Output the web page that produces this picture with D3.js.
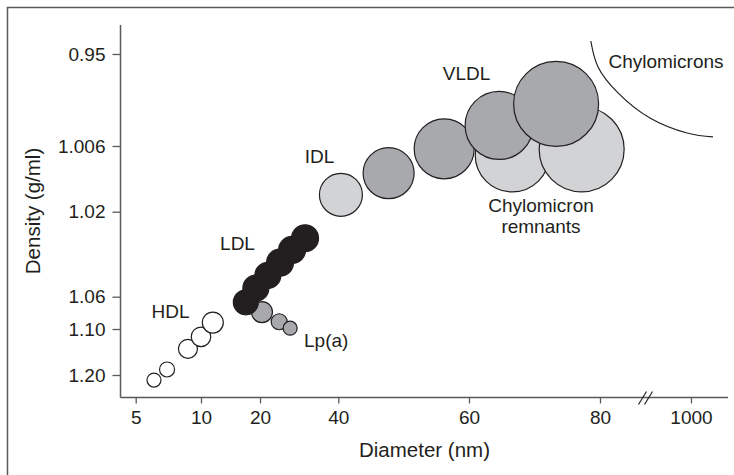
<!DOCTYPE html>
<html lang="en">
<head>
    <meta charset="UTF-8">
    <title>Lipoprotein density vs diameter</title>
    <script src="https://d3js.org/d3.v7.min.js"></script>
    <style>
        body { margin: 0; background: #fff; }
        text { font-family: "Liberation Sans", Arial, Helvetica, sans-serif; fill: #231f20; }
    </style>
</head>
<body>
    <div id="chart"></div>

    <script>
        // axis ticks
        const xTicks = [5, 10, 20, 40, 60, 80, 1000];
        const yTicks = [0.95, 1.006, 1.02, 1.06, 1.10, 1.20];
        const yTickLabels = ["0.95", "1.006", "1.02", "1.06", "1.10", "1.20"];

        // particles: diameter (nm), density (g/ml), relative size
        const hdlDiameter = [6.4, 7.4, 9.0, 10.0, 12.0];
        const hdlDensity = [1.211, 1.188, 1.143, 1.117, 1.092];
        const hdlSize = [14, 15, 19, 19.5, 21];

        const ldlDiameter = [17.6, 19.3, 22.0, 25.1, 28.2, 31.5];
        const ldlDensity = [1.067, 1.056, 1.050, 1.044, 1.038, 1.0325];
        const ldlSize = [25, 26, 26, 27, 27, 27];

        const lpaDiameter = [20.5, 24.9, 27.7];
        const lpaDensity = [1.079, 1.091, 1.099];
        const lpaSize = [21, 16, 14];

        const idlDiameter = [40.4];
        const idlDensity = [1.0164];
        const idlSize = [43];

        const vldlDiameter = [47.7, 56.2, 64.6, 73.3];
        const vldlDensity = [1.0118, 1.0066, 0.9935, 0.9804];
        const vldlSize = [51, 60, 68, 85];

        const remnantDiameter = [66.6, 77.2];
        const remnantDensity = [1.0079, 1.0067];
        const remnantSize = [74, 85];

        // chylomicron boundary curve
        const chyloDiameter = [78.6, 79.7, 262, 585, 960, 1222];
        const chyloDensity = [0.9421, 0.9579, 0.9737, 0.9890, 0.9981, 1.0005];

        const width = 734;
        const height = 475;

        const svg = d3.select("#chart")
            .append("svg")
            .attr("width", width)
            .attr("height", height);

        // frame (only top and left edges show)
        svg.append("rect")
            .attr("x", 7.5).attr("y", 7.5)
            .attr("width", 760).attr("height", 500)
            .attr("fill", "none")
            .attr("stroke", "#58595b")
            .attr("stroke-width", 1.5);

        // broken, uneven axes -> piecewise linear scales
        const x = d3.scaleLinear()
            .domain(xTicks)
            .range([135.7, 201, 260, 338.3, 469, 600, 691]);

        const y = d3.scaleLinear()
            .domain(yTicks)
            .range([54, 146, 211.7, 296.7, 329, 375]);

        const r = d3.scaleLinear().domain([0, 100]).range([0, 50]);

        const axisColor = "#58595b";
        const x0 = 120.5, y0 = 397.5;

        // axis lines
        svg.append("line")
            .attr("x1", x0).attr("x2", x0)
            .attr("y1", 25).attr("y2", y0)
            .attr("stroke", axisColor).attr("stroke-width", 1.5);
        svg.append("line")
            .attr("x1", x0).attr("x2", 728)
            .attr("y1", y0).attr("y2", y0)
            .attr("stroke", axisColor).attr("stroke-width", 1.5);

        const yAxis = svg.append("g")
            .attr("transform", `translate(${x0},0)`)
            .call(d3.axisLeft(y)
                .tickValues(yTicks)
                .tickFormat((d, i) => yTickLabels[i])
                .tickSize(8)
                .tickPadding(7));

        const xAxis = svg.append("g")
            .attr("transform", `translate(0,${y0})`)
            .call(d3.axisBottom(x)
                .tickValues(xTicks)
                .tickFormat(d3.format("d"))
                .tickSize(6)
                .tickPadding(7));

        [yAxis, xAxis].forEach(g => {
            g.select(".domain").remove();
            g.selectAll(".tick line").attr("stroke", axisColor).attr("stroke-width", 1.3);
            g.selectAll(".tick text")
                .attr("font-size", "19px")
                .attr("font-family", "Liberation Sans, Arial, sans-serif")
                .attr("fill", "#231f20");
        });

        // axis break "//"
        const bx = (x(80) + x(1000)) / 2;
        [-3, 3].forEach(off => {
            svg.append("line")
                .attr("x1", bx + off - 4).attr("y1", y0 + 7)
                .attr("x2", bx + off + 4).attr("y2", y0 - 6)
                .attr("stroke", "#231f20").attr("stroke-width", 1.2);
        });

        // axis titles
        svg.append("text")
            .attr("x", 424.5)
            .attr("y", 457)
            .attr("text-anchor", "middle")
            .attr("font-size", "20.5px")
            .text("Diameter (nm)");

        svg.append("text")
            .attr("transform", "translate(40,211) rotate(-90)")
            .attr("text-anchor", "middle")
            .attr("font-size", "20.5px")
            .text("Density (g/ml)");

        // helper to draw one group of circles
        function drawGroup(diam, dens, size, fill) {
            svg.append("g")
                .selectAll("circle")
                .data(diam.map((d, i) => ({ d: d, rho: dens[i], s: size[i] })))
                .enter()
                .append("circle")
                .attr("cx", p => x(p.d))
                .attr("cy", p => y(p.rho))
                .attr("r", p => r(p.s))
                .attr("fill", fill)
                .attr("stroke", "#231f20")
                .attr("stroke-width", 1.2);
        }

        const dark = "#a7a9ac";
        const light = "#d1d3d4";

        drawGroup(remnantDiameter, remnantDensity, remnantSize, light);
        drawGroup(idlDiameter, idlDensity, idlSize, light);
        drawGroup(vldlDiameter, vldlDensity, vldlSize, dark);
        drawGroup(hdlDiameter, hdlDensity, hdlSize, "#fff");
        drawGroup(lpaDiameter, lpaDensity, lpaSize, dark);
        drawGroup(ldlDiameter, ldlDensity, ldlSize, "#231f20");

        // chylomicron boundary
        svg.append("path")
            .datum(chyloDiameter.map((d, i) => [d, chyloDensity[i]]))
            .attr("d", d3.line()
                .x(p => x(p[0]))
                .y(p => y(p[1]))
                .curve(d3.curveNatural))
            .attr("fill", "none")
            .attr("stroke", "#231f20")
            .attr("stroke-width", 1.2);

        // class labels
        const labels = [
            { t: "HDL", x: 170.5, y: 318 },
            { t: "LDL", x: 237.5, y: 250 },
            { t: "IDL", x: 319.5, y: 163 },
            { t: "VLDL", x: 466.5, y: 80 },
            { t: "Chylomicrons", x: 666, y: 68 },
            { t: "Chylomicron", x: 541, y: 212 },
            { t: "remnants", x: 541, y: 233 }
        ];

        svg.selectAll(".lbl")
            .data(labels)
            .enter()
            .append("text")
            .attr("class", "lbl")
            .attr("x", d => d.x)
            .attr("y", d => d.y)
            .attr("text-anchor", "middle")
            .attr("font-size", "19px")
            .text(d => d.t);

        svg.append("text")
            .attr("x", 304)
            .attr("y", 347)
            .attr("font-size", "19px")
            .text("Lp(a)");
    </script>
</body>
</html>
